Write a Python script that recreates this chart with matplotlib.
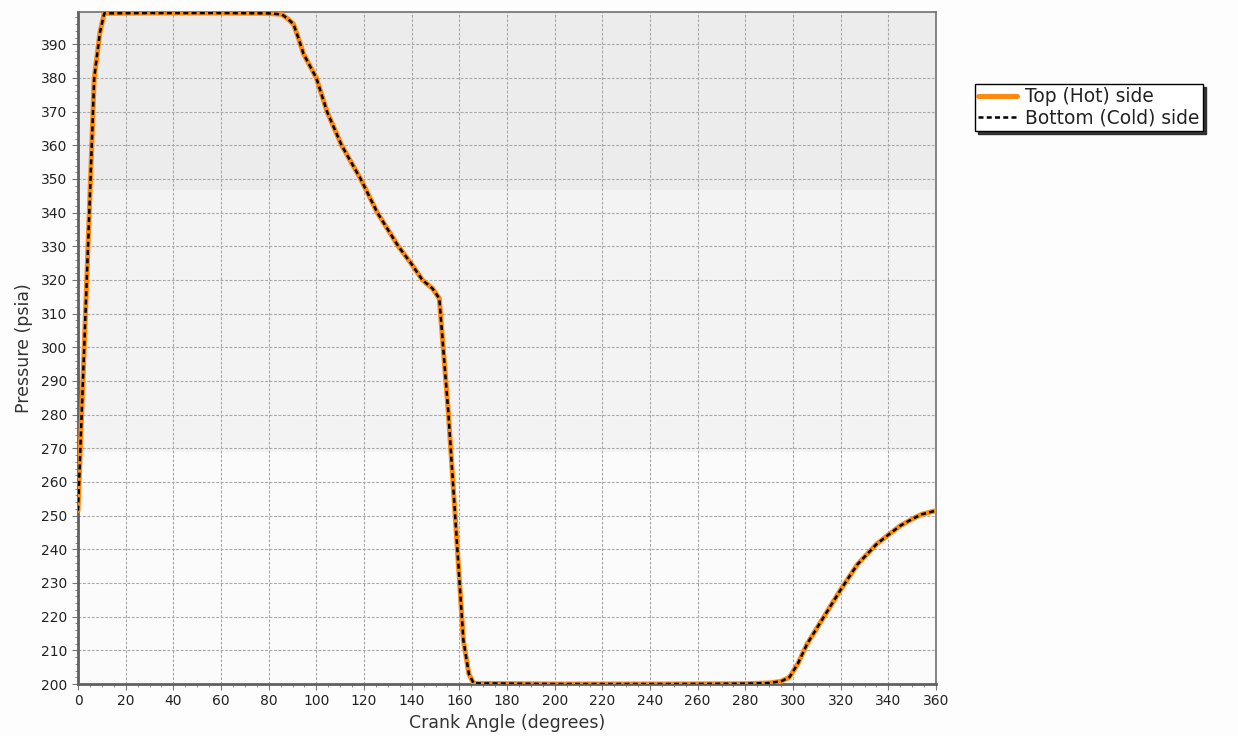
import matplotlib
matplotlib.use("Agg")
import matplotlib.pyplot as plt
from matplotlib.ticker import MultipleLocator

# crank angle (degrees) and cylinder pressure (psia)
crank_angle = [0, 2.5, 5, 6.8, 9.2, 11, 30, 60, 80, 85.5, 88, 90.4, 92.5, 94.6,
               100, 104.5, 110.6, 118.6, 125.6, 134.4, 140, 144.5, 148.7, 151.6,
               155.4, 158.9, 161.7, 164, 166, 200, 250, 280, 290, 295, 298.5,
               302, 306, 313, 320, 327, 335, 340, 345, 350, 354, 360]
top_pressure = [251.5, 298, 345, 380, 393.5, 399.2, 399.3, 399.3, 399.2, 398.9,
                397.6, 396.0, 391.8, 387.2, 380, 370, 360, 350, 340, 330, 324.7,
                320, 317.5, 314.5, 280.5, 243, 213, 203, 200.2, 200, 200, 200.1,
                200.3, 200.8, 202, 206, 212, 220, 228, 235.5, 241.5, 244.3, 247,
                249, 250.4, 251.5]
# the cold side trace sits right on top of the hot side
bottom_pressure = list(top_pressure)

x_ticks = list(range(0, 361, 20))
y_ticks = list(range(200, 391, 10))

fig = plt.figure(figsize=(12.38, 7.36), dpi=100, facecolor="#fdfdfd")
ax = fig.add_axes([78 / 1238, 52 / 736, 858 / 1238, 672 / 736])

# shaded background bands
ax.axhspan(346.7, 400, color="#ececec", zorder=0, lw=0)
ax.axhspan(269, 346.7, color="#f3f3f3", zorder=0, lw=0)
ax.axhspan(200, 269, color="#fbfbfb", zorder=0, lw=0)

ax.plot(crank_angle, top_pressure, color="#ff8a10", lw=3.6,
        solid_capstyle="round", label="Top (Hot) side", zorder=3)
ax.plot(crank_angle, bottom_pressure, color="black", lw=1.8,
        ls=(0, (2.0, 1.3)), label="Bottom (Cold) side", zorder=4)

ax.set_xlim(0, 360)
ax.set_ylim(200, 399.6)
ax.set_xticks(x_ticks)
ax.set_yticks(y_ticks)
ax.xaxis.set_minor_locator(MultipleLocator(5))
ax.yaxis.set_minor_locator(MultipleLocator(2))
ax.tick_params(which="both", direction="out", colors="#777777",
               labelcolor="#222222", labelsize=10)
ax.tick_params(which="major", length=4)
ax.tick_params(which="minor", length=2)

ax.grid(True, which="major", color="#a8a8a8", ls=(0, (2.5, 1.5)), lw=0.8, zorder=1)
ax.set_axisbelow(True)

for side in ["left", "bottom"]:
    ax.spines[side].set_color("#606060")
    ax.spines[side].set_linewidth(2)
for side in ["top", "right"]:
    ax.spines[side].set_color("#707070")
    ax.spines[side].set_linewidth(1.2)

ax.set_xlabel("Crank Angle (degrees)", fontsize=12.5, color="#333333", labelpad=4)
ax.set_ylabel("Pressure (psia)", fontsize=12.5, color="#333333", labelpad=6)

leg = ax.legend(loc="upper left", bbox_to_anchor=(975 / 1238, 1 - 84 / 736),
                bbox_transform=fig.transFigure, borderaxespad=0, fancybox=False,
                framealpha=1, edgecolor="black", fontsize=13.4, handlelength=2.1,
                handletextpad=0.42, borderpad=0.18, labelspacing=0.12,
                shadow={"color": "#222222", "alpha": 0.9})
leg.get_frame().set_linewidth(1)
for text in leg.get_texts():
    text.set_color("#222222")

fig.savefig("out.png", dpi=100, facecolor=fig.get_facecolor())
